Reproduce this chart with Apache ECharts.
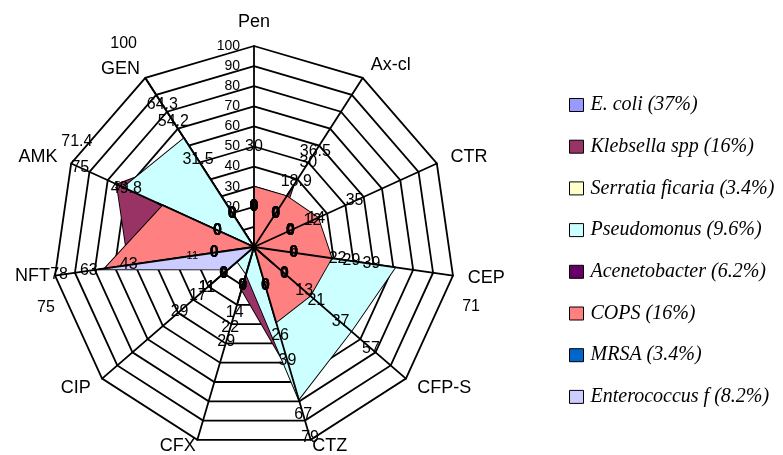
<!DOCTYPE html>
<html>
<head>
<meta charset="utf-8">
<script src="https://cdn.jsdelivr.net/npm/echarts@6/dist/echarts.min.js"></script>
<style>
  html, body { margin: 0; padding: 0; background: #fff; }
  #chart { width: 783px; height: 455px; }
</style>
</head>
<body>
<div id="chart"></div>
<script>
// axes, clockwise from the top (same order as the original chart)
const axisNames = ['Pen', 'Ax-cl', 'CTR', 'CEP', 'CFP-S', 'CTZ', 'CFX', 'CIP', 'NFT', 'AMK', 'GEN'];

const seriesNames = [
  'E. coli (37%)', 'Klebsella spp (16%)', 'Serratia ficaria (3.4%)', 'Pseudomonus (9.6%)',
  'Acenetobacter (6.2%)', 'COPS (16%)', 'MRSA (3.4%)', 'Enterococcus f (8.2%)'
];
const seriesColors = ['#9999FF', '#993366', '#FFFFCC', '#CCFFFF', '#660066', '#FF8080', '#0066CC', '#CCCCFF'];

// resistance values, one per axis (Pen .. GEN)
const eColi         = [0, 18.9, 14, 22, 57, 26, 0, 11, 43, 0, 100];
const klebsiella    = [0, 36.5, 12, 29, 21, 67, 22, 0, 63, 75, 54.2];
const serratia      = [0, 0, 0, 0, 0, 0, 0, 29, 0, 0, 31.5];
const pseudomonus   = [0, 0, 0, 71, 64, 79, 14, 11, 0, 71.4, 64.3];
const acenetobacter = [0, 0, 0, 0, 0, 0, 0, 0, 11, 53, 0];
const cops          = [30, 30, 35, 39, 37, 39, 0, 0, 75, 49.8, 0];
const mrsa          = [0, 0, 0, 0, 13, 0, 29, 0, 0, 0, 0];
const enterococcus  = [0, 0, 0, 0, 0, 0, 0, 17, 78, 0, 0];

const allSeries = [eColi, klebsiella, serratia, pseudomonus, acenetobacter, cops, mrsa, enterococcus];

// data labels sit a bit outside their point, like the excel ones
const labelShift = 20;
// a few labels were dragged away by hand in the original: [series, axis, dx, dy]
const movedLabels = [[3, 3, 36, 34], [3, 9, -10, -29], [5, 8, -19, 33]];
// labels deleted in the original: [series, axis]
const hiddenLabels = [[3, 4]];
const smallLabelSeries = [4];

// echarts lays radar indicators out counter-clockwise, so flip the order
const n = axisNames.length;
function toRadarIdx(i) { return (n - i) % n; }
function toRadarOrder(arr) { return arr.map((_, j) => arr[(n - j) % n]); }

const nameGaps = { 'CTZ': 6, 'CFX': 6, 'NFT': 5, 'GEN': 10 };

const chart = echarts.init(document.getElementById('chart'));

const font = 'Liberation Sans';
const black = '#000';

const indicatorList = toRadarOrder(axisNames).map((name, j) => {
  const ind = { name: name, max: 100, min: 0 };
  if (nameGaps[name] !== undefined) ind.nameGap = nameGaps[name];
  if (j === 0) ind.axisLabel = { show: true, fontSize: 14, color: black, fontFamily: font, margin: 14 };
  return ind;
});

const option = {
  animation: false,
  backgroundColor: '#fff',
  legend: {
    orient: 'vertical',
    left: 564,
    top: 90,
    icon: 'rect',
    itemWidth: 14,
    itemHeight: 13,
    itemGap: 21.7,
    itemStyle: { borderColor: black, borderWidth: 1 },
    textStyle: { fontFamily: 'Liberation Serif', fontStyle: 'italic', fontSize: 20, color: black, padding: [0, 0, 0, 2] },
    data: seriesNames
  },
  radar: [
    {
      center: [254, 247],
      radius: 201,
      startAngle: 90,
      shape: 'polygon',
      splitNumber: 10,
      indicator: indicatorList,
      axisName: { color: black, fontSize: 18, fontFamily: font },
      nameGap: 15,
      splitLine: { lineStyle: { color: black, width: 1.8 } },
      splitArea: { show: false },
      axisLine: { show: false },
      axisLabel: { show: false }
    },
    {
      // spokes drawn again above the filled areas
      center: [254, 247],
      radius: 201,
      startAngle: 90,
      shape: 'polygon',
      splitNumber: 10,
      z: 3,
      indicator: axisNames.map(() => ({ name: '', max: 100, min: 0 })),
      axisName: { show: false },
      splitLine: { show: false },
      splitArea: { show: false },
      axisLine: { lineStyle: { color: black, width: 1.8 } },
      axisLabel: { show: false }
    }
  ],
  series: allSeries.map((vals, s) => ({
    name: seriesNames[s],
    type: 'radar',
    radarIndex: 0,
    symbol: 'none',
    itemStyle: { color: seriesColors[s] },
    lineStyle: { color: black, width: 1.8 },
    areaStyle: { color: seriesColors[s], opacity: 1 },
    data: [{ name: seriesNames[s], value: toRadarOrder(vals) }]
  }))
};

chart.setOption(option);

// place the value labels through the radar coordinate system
const radarCoord = chart.getModel().getComponent('radar', 0).coordinateSystem;
const labelTexts = [];
allSeries.forEach((vals, s) => {
  vals.forEach((v, i) => {
    if (hiddenLabels.some(h => h[0] === s && h[1] === i)) return;
    const p = radarCoord.dataToPoint(v + labelShift, toRadarIdx(i));
    let dx = 0, dy = 0;
    movedLabels.forEach(m => { if (m[0] === s && m[1] === i) { dx = m[2]; dy = m[3]; } });
    const small = smallLabelSeries.indexOf(s) >= 0;
    labelTexts.push({
      type: 'text',
      x: p[0] + dx,
      y: p[1] + dy,
      z: 50,
      silent: true,
      style: {
        text: String(v),
        fill: black,
        font: (v === 0 ? 'bold ' : '') + (small ? '11px ' : '16px ') + font,
        align: 'center',
        verticalAlign: 'middle'
      }
    });
  });
});
chart.setOption({ graphic: labelTexts });
</script>
</body>
</html>
